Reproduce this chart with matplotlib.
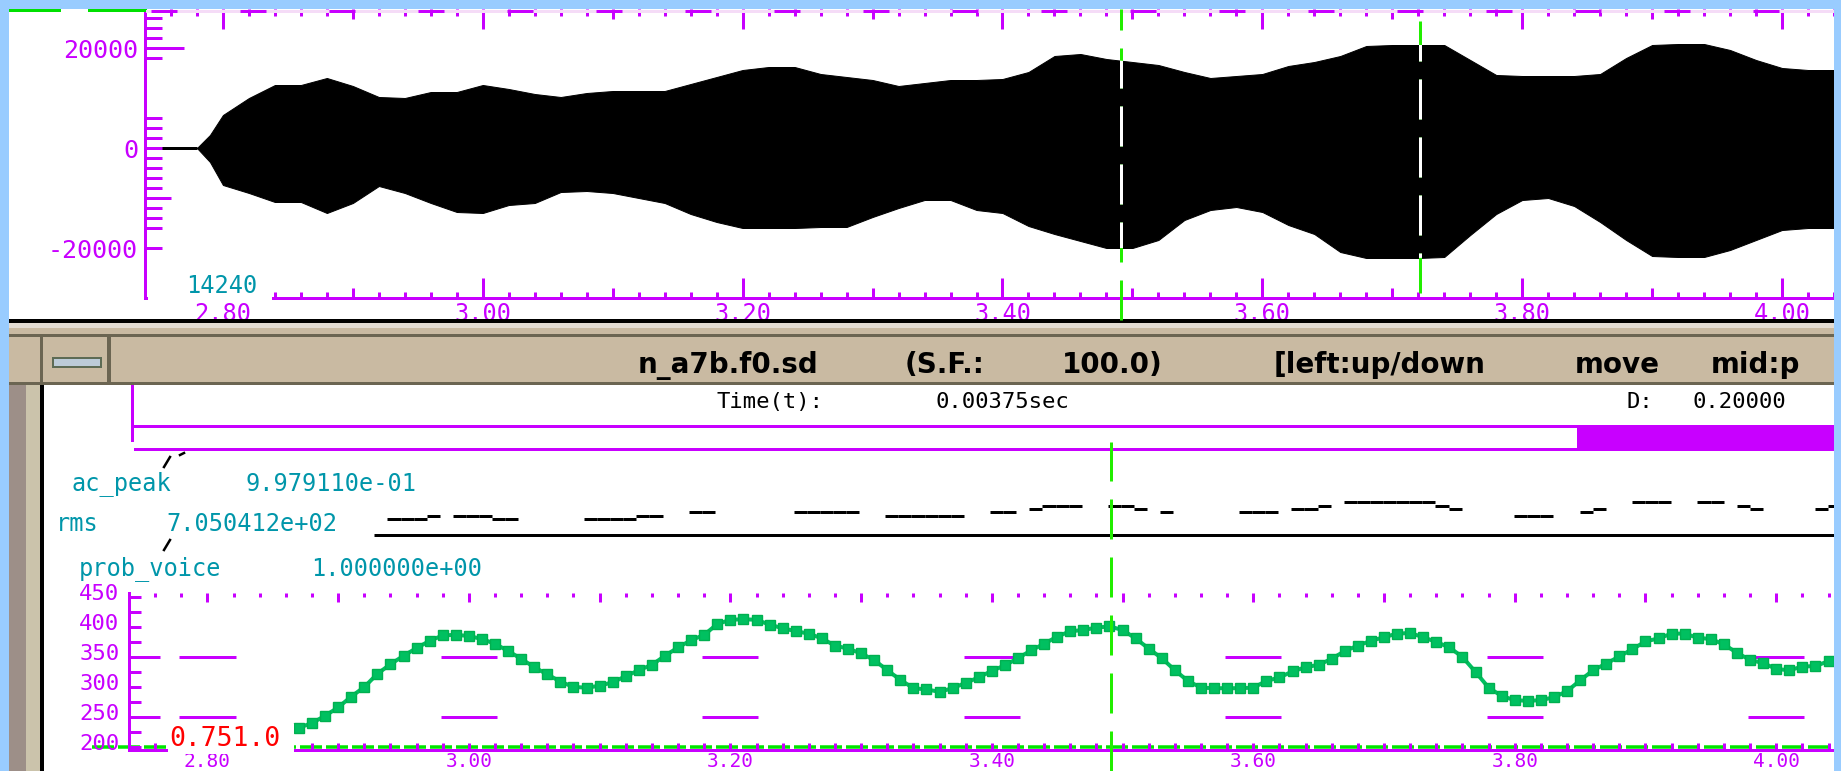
import numpy as np
import matplotlib
matplotlib.use("Agg")
import matplotlib.pyplot as plt
from matplotlib.patches import Rectangle
from matplotlib.lines import Line2D
from matplotlib import transforms as mtransforms

# ---------------------------------------------------------------- data
# top panel: waveform envelope (amplitude, sample units)
wave_t = [2.74, 2.78, 2.79, 2.80, 2.82, 2.84, 2.86, 2.88, 2.90, 2.92, 2.94, 2.96, 2.98,
          3.00, 3.02, 3.04, 3.06, 3.08, 3.10, 3.12, 3.14, 3.16, 3.18, 3.20, 3.22, 3.24,
          3.26, 3.28, 3.30, 3.32, 3.34, 3.36, 3.38, 3.40, 3.42, 3.44, 3.46, 3.48, 3.50,
          3.52, 3.54, 3.56, 3.58, 3.60, 3.62, 3.64, 3.66, 3.68, 3.70, 3.72, 3.74, 3.76,
          3.78, 3.80, 3.82, 3.84, 3.86, 3.88, 3.90, 3.92, 3.94, 3.96, 3.98, 4.00, 4.02, 4.04]
wave_upper = [0, 0, 2600, 6600, 10000, 12600, 12600, 14000, 12400, 10200, 10000, 11200, 11200,
              12600, 11800, 10800, 10200, 11000, 11400, 11400, 11400, 12800, 14200, 15600, 16200, 16200,
              14800, 14200, 13600, 12400, 13000, 13600, 13600, 13800, 15200, 18400, 18800, 17800, 17200,
              16600, 15200, 14000, 14400, 14800, 16400, 17200, 18400, 20400, 20600, 20600, 20600, 17600,
              14600, 14400, 14400, 14400, 14800, 18000, 20600, 20800, 20800, 19600, 17600, 16000, 15600, 15600]
wave_lower = [0, 0, -2800, -7400, -9000, -10800, -10800, -13000, -11000, -7600, -9000, -11000, -12800,
              -13000, -11400, -11000, -8800, -8600, -9000, -10000, -11000, -13200, -14800, -16000, -16000, -16000,
              -15800, -15800, -13800, -12000, -10400, -10400, -12400, -13000, -15600, -17200, -18600, -20000, -20000,
              -18400, -14400, -12400, -11800, -12800, -15400, -17200, -20800, -22000, -22000, -22000, -21800, -17400,
              -13200, -10400, -10000, -11600, -14800, -18400, -21600, -21800, -21800, -20400, -18400, -16400, -16000, -16000]

# F0 track (Hz), one value per 10 ms frame starting at f0_start
f0_start = 2.87
frame_step = 0.01
f0 = [232, 240, 252, 266, 284, 300, 322, 338, 352, 365,
      377, 386, 387, 385, 380, 372, 360, 347, 333, 321,
      309, 300, 299, 302, 308, 318, 328, 337, 352, 366,
      378, 387, 405, 412, 413, 412, 404, 398, 393, 389,
      381, 369, 364, 356, 345, 328, 312, 298, 296, 292,
      298, 307, 316, 327, 336, 348, 361, 372, 384, 393,
      395, 399, 401, 395, 381, 364, 348, 328, 310, 299,
      298, 298, 298, 299, 310, 316, 326, 333, 337, 347,
      360, 369, 377, 383, 389, 390, 383, 375, 366, 350,
      325, 299, 285, 278, 277, 278, 283, 293, 311, 328,
      339, 351, 363, 376, 381, 389, 389, 382, 380, 371,
      357, 345, 340, 330, 328, 334, 335, 343]

# rms track: frame start times and values (frames not drawn are omitted)
rms_t = [2.94, 2.95, 2.96, 2.97, 2.99, 3.00, 3.01, 3.02, 3.03, 3.09, 3.10, 3.11, 3.12, 3.13, 3.14,
         3.17, 3.18, 3.25, 3.26, 3.27, 3.28, 3.29, 3.32, 3.33, 3.34, 3.35, 3.36, 3.37, 3.40, 3.41,
         3.43, 3.44, 3.45, 3.46, 3.49, 3.50, 3.51, 3.53, 3.59, 3.60, 3.61, 3.63, 3.64, 3.65, 3.67,
         3.68, 3.69, 3.70, 3.71, 3.72, 3.73, 3.74, 3.75, 3.80, 3.81, 3.82, 3.85, 3.86, 3.89, 3.90,
         3.91, 3.94, 3.95, 3.97, 3.98, 4.03, 4.04]
rms_v = [640, 640, 640, 770, 770, 770, 770, 640, 640, 640, 640, 640, 640, 770, 770,
         920, 920, 920, 920, 920, 920, 920, 770, 770, 770, 770, 770, 770, 920, 920,
         1040, 1170, 1170, 1170, 1170, 1170, 1040, 920, 920, 920, 920, 1040, 1040, 1170, 1310,
         1310, 1310, 1310, 1310, 1310, 1310, 1170, 1040, 770, 770, 770, 920, 1040, 1310, 1310,
         1310, 1310, 1310, 1170, 1040, 1040, 1170]
rms_base_start = 2.93

# voicing probability line
prob_voice = 1.0
pv_start, pv_end = 2.712, 4.045

# cursors
cursor_t = 3.4915
mark_t = 3.7215

# axes ranges and ticks
top_xlim = (2.7427, 4.032)
low_xlim = (2.7427, 4.0442)
top_ylim = (-30000, 27800)
low_ylim = (195, 456.7)
rms_ylim = (-200, 1600)
pv_ylim = (0, 44.86)
xt_major = [2.8, 2.9, 3.0, 3.1, 3.2, 3.3, 3.4, 3.5, 3.6, 3.7, 3.8, 3.9, 4.0]
xt_labels = ["2.80", "", "3.00", "", "3.20", "", "3.40", "", "3.60", "", "3.80", "", "4.00"]
xt_minor = [round(2.74 + 0.02 * i, 2) for i in range(66)]
grid_t = [2.8, 3.0, 3.2, 3.4, 3.6, 3.8, 4.0]
grid_f = [250, 350]
grid_half = 0.0215
top_yt_major = [-20000, 0, 20000]
top_yt_labels = ["-20000", "0", "20000"]
top_yt_minor = [-16000, -14000, -12000, -10000, -8000, -6000, -4000, -2000,
                2000, 4000, 6000, 18000, 22000, 24000, 26000]
low_yt_major = [200, 250, 300, 350, 400, 450]
low_yt_labels = ["200", "250", "300", "350", "400", "450"]
low_yt_minor = [225, 275, 325, 375, 425]

# texts
title_words = ["n_a7b.f0.sd", "(S.F.:", "100.0)", "[left:up/down", "move", "mid:p"]
time_label, time_value = "Time(t):", "0.00375sec"
d_label, d_value = "D:", "0.20000"
ac_name, ac_value = "ac_peak", "9.979110e-01"
rms_name, rms_value = "rms", "7.050412e+02"
pv_name, pv_value = "prob_voice", "1.000000e+00"
sample_label = "14240"
readout = "0.751.0"

# ---------------------------------------------------------------- style
W, H, DPI = 1841, 771, 100
PT = 72.0 / DPI
MAG = '#c800ff'
TEAL = '#0096aa'
GRN = '#22ee00'
VGRN = '#00e600'
PGRN = '#00c060'
BLUE = '#99ccff'
TAN = '#c9baa2'
OLIVE = '#6b6552'
RED = '#ff0000'

plt.rcParams['font.family'] = ['DejaVu Sans Mono', 'DejaVu Sans']
plt.rcParams['lines.scale_dashes'] = False

fig = plt.figure(figsize=(W / DPI, H / DPI), dpi=DPI)
fig.patch.set_facecolor('white')


def box(x0, y0, x1, y1):
    return [x0 / W, 1 - y1 / H, (x1 - x0) / W, (y1 - y0) / H]


def fx(x):
    return x / W


def fy(y):
    return 1 - y / H


def rect(x0, y0, x1, y1, color, z=3):
    fig.add_artist(Rectangle((fx(x0), fy(y1)), (x1 - x0) / W, (y1 - y0) / H,
                             transform=fig.transFigure, facecolor=color,
                             edgecolor='none', zorder=z))


def fline(xs, ys, **kw):
    kw.setdefault('zorder', 5)
    fig.add_artist(Line2D([fx(x) for x in xs], [fy(y) for y in ys],
                          transform=fig.transFigure, **kw))


def ftext(x, y, s, **kw):
    kw.setdefault('ha', 'center')
    kw.setdefault('va', 'center')
    kw.setdefault('zorder', 6)
    fig.text(fx(x), fy(y), s, **kw)


def is02(v):
    q = v / 0.2
    return abs(q - round(q)) < 1e-6


def size_ticks(axis, which, rule1, rule2=None):
    if which == 'major':
        locs = axis.get_majorticklocs()
        ticks = axis.get_major_ticks(len(locs))
    else:
        locs = axis.get_minorticklocs()
        ticks = axis.get_minor_ticks(len(locs))
    for tk, loc in zip(ticks, locs):
        tk.tick1line.set_markersize(rule1(loc) * PT)
        if rule2 is not None:
            tk.tick2line.set_markersize(rule2(loc) * PT)


# ---------------------------------------------------------------- top panel (waveform)
ax_top = fig.add_axes(box(145, 9, 1834, 298))
ax_top.set_facecolor('white')
ax_top.set_xlim(*top_xlim)
ax_top.set_ylim(*top_ylim)
for s in ('top', 'right'):
    ax_top.spines[s].set_visible(False)
for s in ('left', 'bottom'):
    ax_top.spines[s].set_color(MAG)
    ax_top.spines[s].set_linewidth(3 * PT)
ax_top.set_xticks(xt_major)
ax_top.set_xticklabels(xt_labels)
ax_top.set_xticks(xt_minor, minor=True)
ax_top.set_yticks(top_yt_major)
ax_top.set_yticklabels(top_yt_labels)
ax_top.set_yticks(top_yt_minor, minor=True)
ax_top.tick_params(axis='x', which='both', direction='in', top=True, bottom=True,
                   color=MAG, labelcolor=MAG, width=3 * PT, labelsize=17, pad=3)
ax_top.tick_params(axis='y', which='both', direction='in', left=True, right=False,
                   color=MAG, labelcolor=MAG, width=3 * PT, length=17 * PT,
                   labelsize=18, pad=5)
ax_top.set_axisbelow(False)
size_ticks(ax_top.xaxis, 'major', lambda v: 20 if is02(v) else 10, lambda v: 20 if is02(v) else 10)
size_ticks(ax_top.xaxis, 'minor', lambda v: 6, lambda v: 7)
size_ticks(ax_top.yaxis, 'major', lambda v: 39 if v == 20000 else 17)
size_ticks(ax_top.yaxis, 'minor', lambda v: 26 if v == -10000 else 17)

wave = ax_top.fill_between(wave_t, wave_lower, wave_upper, facecolor='black',
                           edgecolor='black', linewidth=1 * PT, zorder=2)
ax_top.plot(wave_t[:2], wave_upper[:2], color='black', lw=3 * PT, zorder=2,
            solid_capstyle='butt')

# ---------------------------------------------------------------- lower panel (F0)
ax_low = fig.add_axes(box(129, 593, 1834, 750))
ax_low.set_facecolor('none')
ax_low.set_xlim(*low_xlim)
ax_low.set_ylim(*low_ylim)
for s in ('top', 'right'):
    ax_low.spines[s].set_visible(False)
for s in ('left', 'bottom'):
    ax_low.spines[s].set_color(MAG)
    ax_low.spines[s].set_linewidth(3 * PT)
ax_low.set_xticks(xt_major)
ax_low.set_xticklabels(xt_labels)
ax_low.set_xticks(xt_minor, minor=True)
ax_low.set_yticks(low_yt_major)
ax_low.set_yticklabels(low_yt_labels)
ax_low.set_yticks(low_yt_minor, minor=True)
ax_low.tick_params(axis='x', which='both', direction='in', top=True, bottom=True,
                   color=MAG, labelcolor=MAG, width=3 * PT, labelsize=14, pad=1.5)
ax_low.tick_params(axis='y', which='both', direction='in', left=True, right=False,
                   color=MAG, labelcolor=MAG, width=3 * PT, length=12 * PT,
                   labelsize=16, pad=7)
ax_low.set_axisbelow(False)
size_ticks(ax_low.xaxis, 'major', lambda v: 7, lambda v: 9)
size_ticks(ax_low.xaxis, 'minor', lambda v: 7, lambda v: 4)
size_ticks(ax_low.yaxis, 'major', lambda v: 31 if v in grid_f else 12)
off = mtransforms.ScaledTranslation(0, 5 / DPI, fig.dpi_scale_trans)
for lab in ax_low.get_yticklabels():
    lab.set_transform(lab.get_transform() + off)

for tm in grid_t:
    ax_low.hlines(grid_f, tm - grid_half, tm + grid_half, colors=MAG, lw=3 * PT, zorder=2)

f0_t = np.round(f0_start + frame_step * np.arange(len(f0)), 2)
ax_low.plot(f0_t, f0, color=PGRN, lw=4 * PT, marker='s', ms=10 * PT,
            mec='#00b050', mfc=PGRN, zorder=3)

ax_pv = ax_low.twinx()
ax_pv.set_zorder(-1)
ax_pv.set_ylim(*pv_ylim)
ax_pv.axis('off')
ax_pv.hlines(prob_voice, pv_start, pv_end, colors=VGRN, lw=3.5 * PT,
             linestyles=[(0, (22 * PT, 4 * PT))], clip_on=False)

# ---------------------------------------------------------------- rms track
ax_rms = fig.add_axes(box(129, 495, 1834, 540))
ax_rms.set_facecolor('none')
ax_rms.set_xlim(*low_xlim)
ax_rms.set_ylim(*rms_ylim)
ax_rms.axis('off')
ax_rms.hlines(rms_v, rms_t, np.array(rms_t) + frame_step, colors='black', lw=3 * PT)
ax_rms.hlines(0, rms_base_start, low_xlim[1], colors='black', lw=3 * PT)

# ---------------------------------------------------------------- cursors
blend_top = mtransforms.blended_transform_factory(ax_top.transData, fig.transFigure)
blend_low = mtransforms.blended_transform_factory(ax_low.transData, fig.transFigure)
wave_path = wave.get_paths()[0]
dash = (0, (40 * PT, 18 * PT))
for t, y_start in ((cursor_t, 320), (mark_t, 293)):
    g = Line2D([t, t], [fy(y_start), fy(9)], transform=blend_top, color=GRN,
               lw=3 * PT, linestyle=dash, zorder=7)
    fig.add_artist(g)
    wl = Line2D([t, t], [fy(y_start), fy(9)], transform=blend_top, color='white',
                lw=3 * PT, linestyle=dash, zorder=8)
    wl.set_clip_path(wave_path, ax_top.transData)
    fig.add_artist(wl)
fig.add_artist(Line2D([cursor_t, cursor_t], [fy(771), fy(442)], transform=blend_low,
                      color=GRN, lw=3 * PT, linestyle=dash, zorder=7))

# ---------------------------------------------------------------- window decorations
rect(0, 0, W, 9, BLUE, 20)
rect(0, 0, 9, H, BLUE, 20)
rect(1834, 0, W, H, BLUE, 20)
rect(9, 9, 61, 12, '#00e000')
rect(88, 9, 147, 12, '#00e000')
fline([147, 1834], [10.5, 10.5], color='#f5dcf7', lw=3 * PT, zorder=3)
fline([151, 1834], [10.5, 10.5], color=MAG, lw=3 * PT, linestyle=(0, (26 * PT, 63 * PT)), zorder=3)

rect(9, 319, 1834, 323, 'black')
rect(9, 323, 1834, 328, '#e3dcd3')
rect(9, 328, 1834, 385, TAN)
rect(9, 334, 1834, 337, OLIVE)
rect(9, 382, 1834, 385, OLIVE)
rect(9, 385, 26, H, '#9d8f88')
rect(26, 385, 40, H, '#cbc3ab')
rect(40, 385, 44, H, 'black')
rect(40, 337, 43, 382, OLIVE)
rect(107, 337, 111, 382, OLIVE)
rect(52, 357, 102, 368, '#5d6b55')
rect(54, 359, 100, 366, '#bccbd8')

# scrollbar
rect(131, 385, 134, 442, MAG)
rect(131, 425, 1834, 428, MAG)
rect(134, 448, 1834, 451, MAG)
rect(1577, 425, 1834, 451, MAG)

# label backgrounds
rect(148, 272, 272, 301, 'white', 4)
rect(168, 724, 294, 754, 'white', 4)

# ---------------------------------------------------------------- texts
title_x = [728, 945, 1112, 1380, 1617]
for word, xc in zip(title_words[:-1], title_x):
    ftext(xc, 365, word, family='DejaVu Sans', fontweight='bold', fontsize=20, color='black')
ftext(1711, 365, title_words[-1], ha='left', family='DejaVu Sans', fontweight='bold',
      fontsize=20, color='black')

ftext(770, 402, time_label, fontsize=16, color='black')
ftext(1002, 402, time_value, fontsize=16, color='black')
ftext(1640, 402, d_label, fontsize=16, color='black')
ftext(1692, 402, d_value, ha='left', fontsize=16, color='black')

ftext(121, 484, ac_name, fontsize=17, color=TEAL)
ftext(331, 484, ac_value, fontsize=17, color=TEAL)
ftext(77, 524, rms_name, fontsize=17, color=TEAL)
ftext(252, 524, rms_value, fontsize=17, color=TEAL)
ftext(150, 569, pv_name, fontsize=17, color=TEAL)
ftext(397, 569, pv_value, fontsize=17, color=TEAL)

ftext(222, 286, sample_label, fontsize=17, color=TEAL)
ftext(225, 739, readout, fontsize=19, color=RED)

fline([164, 170], [467, 457], color='black', lw=2.5 * PT)
fline([180, 184], [455, 453], color='black', lw=2.5 * PT)
fline([164, 170], [550, 540], color='black', lw=2.5 * PT)

fig.savefig('out.png', dpi=DPI, facecolor='white')
